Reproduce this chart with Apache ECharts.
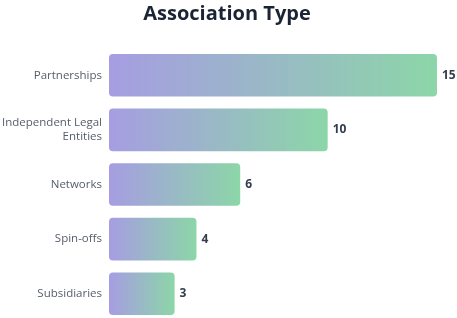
<!DOCTYPE html>
<html>
<head>
<meta charset="utf-8">
<script src="https://cdn.jsdelivr.net/npm/echarts@6/dist/echarts.min.js"></script>
<style>
html, body { margin: 0; padding: 0; background: #fff; }
#chart { width: 457px; height: 318px; }
</style>
</head>
<body>
<div id="chart"></div>
<script>
var categories = ['Partnerships', 'Independent Legal\nEntities', 'Networks', 'Spin-offs', 'Subsidiaries'];
var counts = [15, 10, 6, 4, 3];

var chart = echarts.init(document.getElementById('chart'));

chart.setOption({
	animation: false,
	title: {
		text: 'Association Type',
		left: 222,
		textAlign: 'center',
		top: -1,
		textStyle: {
			fontFamily: 'Open Sans',
			fontWeight: 'bold',
			fontSize: 20,
			color: '#1b2435'
		}
	},
	grid: {
		left: 109,
		width: 328,
		top: 48,
		height: 273,
		containLabel: false,
		outerBoundsMode: 'none'
	},
	xAxis: {
		type: 'value',
		min: 0,
		max: 15,
		show: false
	},
	yAxis: {
		type: 'category',
		inverse: true,
		data: categories,
		axisLine: { show: false },
		axisTick: { show: false },
		axisLabel: {
			margin: 7,
			fontFamily: 'Open Sans',
			fontSize: 11.5,
			lineHeight: 14,
			color: '#555e6b'
		}
	},
	series: [{
		type: 'bar',
		data: counts,
		barWidth: '78%',
		itemStyle: {
			borderRadius: 4,
			color: new echarts.graphic.LinearGradient(0, 0, 1, 0, [
				{ offset: 0, color: '#a69de2' },
				{ offset: 1, color: '#8cd6a8' }
			])
		},
		label: {
			show: true,
			position: 'right',
			distance: 5,
			fontFamily: 'Open Sans',
			fontWeight: 'bold',
			fontSize: 12,
			color: '#333d4d'
		}
	}]
});
</script>
</body>
</html>
